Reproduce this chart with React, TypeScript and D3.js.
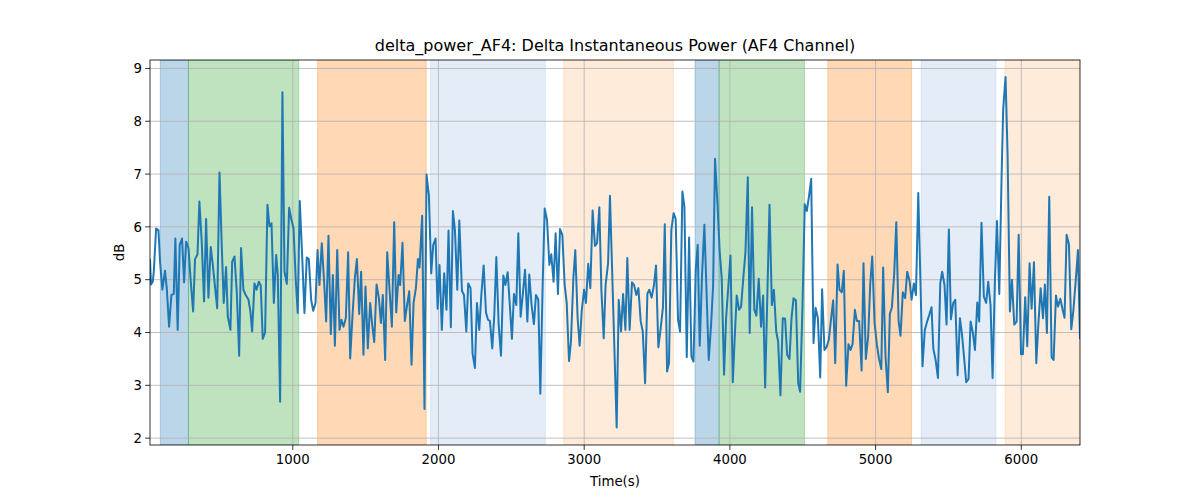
import { useMemo } from 'react'
import * as d3 from 'd3'

// time (s) and delta power (dB)
const times = [
  20, 27, 39, 46, 62, 78, 89, 105, 123, 135, 151, 167, 183, 194, 210, 224, 240, 254, 268, 284,
  300, 316, 329, 346, 359, 375, 391, 405, 421, 437, 451, 467, 481, 497, 513, 526, 542, 554, 572, 584,
  600, 616, 632, 645, 661, 677, 696, 709, 721, 737, 751, 767, 780, 794, 810, 826, 840, 854, 870, 886,
  897, 913, 929, 943, 959, 975, 989, 1005, 1021, 1034, 1048, 1064, 1080, 1096, 1110, 1126, 1140, 1156, 1170, 1183,
  1199, 1215, 1229, 1245, 1261, 1275, 1289, 1305, 1321, 1334, 1348, 1364, 1380, 1394, 1410, 1426, 1440, 1456, 1469, 1485,
  1499, 1515, 1531, 1545, 1559, 1575, 1591, 1605, 1618, 1634, 1648, 1664, 1680, 1696, 1710, 1726, 1737, 1753, 1769, 1783,
  1799, 1815, 1829, 1845, 1859, 1870, 1888, 1904, 1918, 1934, 1950, 1964, 1980, 1994, 2007, 2023, 2039, 2055, 2069, 2085,
  2099, 2113, 2129, 2143, 2161, 2175, 2191, 2204, 2220, 2234, 2250, 2264, 2280, 2294, 2310, 2326, 2340, 2353, 2369, 2383,
  2397, 2413, 2429, 2445, 2459, 2475, 2491, 2504, 2518, 2534, 2548, 2564, 2580, 2594, 2610, 2623, 2639, 2655, 2669, 2685,
  2699, 2715, 2729, 2745, 2761, 2774, 2790, 2804, 2820, 2834, 2850, 2866, 2880, 2896, 2909, 2926, 2939, 2955, 2969, 2983,
  2999, 3012, 3028, 3042, 3058, 3074, 3088, 3104, 3118, 3134, 3147, 3164, 3177, 3223, 3237, 3253, 3267, 3283, 3296, 3312,
  3328, 3342, 3358, 3372, 3388, 3402, 3418, 3434, 3447, 3463, 3479, 3493, 3509, 3525, 3541, 3553, 3569, 3582, 3598, 3614,
  3628, 3644, 3658, 3674, 3688, 3704, 3720, 3736, 3750, 3766, 3779, 3793, 3809, 3825, 3839, 3855, 3871, 3885, 3898, 3914,
  3930, 3944, 3960, 3974, 3990, 4004, 4020, 4033, 4047, 4063, 4077, 4093, 4107, 4123, 4136, 4152, 4168, 4182, 4198, 4214,
  4228, 4242, 4272, 4288, 4302, 4318, 4331, 4347, 4363, 4379, 4393, 4409, 4423, 4437, 4453, 4469, 4482, 4498, 4514, 4528,
  4544, 4558, 4574, 4588, 4604, 4620, 4633, 4649, 4663, 4679, 4695, 4709, 4723, 4739, 4752, 4768, 4782, 4798, 4814, 4828,
  4842, 4858, 4871, 4887, 4904, 4917, 4933, 4949, 4963, 4977, 4993, 5009, 5023, 5039, 5052, 5068, 5084, 5098, 5112, 5128,
  5142, 5158, 5171, 5187, 5203, 5217, 5233, 5247, 5263, 5277, 5293, 5322, 5338, 5354, 5368, 5384, 5396, 5412, 5428, 5444,
  5457, 5473, 5487, 5503, 5517, 5533, 5547, 5563, 5579, 5592, 5608, 5622, 5638, 5652, 5668, 5682, 5698, 5711, 5727, 5743,
  5759, 5773, 5789, 5803, 5819, 5833, 5849, 5865, 5876, 5892, 5906, 5922, 5936, 5952, 5968, 5982, 5998, 6011, 6027, 6041,
  6057, 6071, 6087, 6103, 6117, 6133, 6149, 6162, 6176, 6192, 6208, 6222, 6238, 6252, 6268, 6284, 6297, 6311, 6327, 6343,
  6357, 6373, 6389, 6403,
]

const values = [
  5.37, 4.91, 4.96, 5.15, 5.97, 5.94, 5.34, 4.81, 5.17, 4.84, 4.11, 4.71, 4.73, 5.78, 4.05, 5.66, 5.78, 4.95, 5.72, 5.6,
  4.96, 4.4, 5.39, 5.48, 6.48, 5.72, 4.59, 6.15, 4.66, 5.62, 5.28, 4.84, 4.46, 7.03, 5.6, 4.56, 5.24, 4.3, 4.05, 5.34,
  5.44, 4.74, 3.56, 5.6, 4.81, 4.71, 4.62, 4.4, 4.02, 4.93, 4.81, 4.96, 4.89, 3.88, 4.0, 6.42, 6.01, 6.07, 4.56, 5.47,
  5.09, 2.69, 8.55, 5.15, 4.92, 6.36, 6.16, 5.97, 4.96, 4.37, 6.49, 5.47, 4.37, 5.42, 5.39, 4.62, 4.41, 4.56, 5.56, 4.9,
  5.69, 4.96, 4.21, 5.83, 3.97, 5.09, 3.75, 5.56, 4.05, 4.24, 4.11, 4.27, 5.52, 3.51, 4.33, 5.03, 5.39, 4.35, 5.15, 3.58,
  4.87, 3.7, 4.56, 4.15, 3.82, 4.91, 4.65, 4.18, 4.71, 3.48, 5.52, 4.81, 4.11, 6.09, 4.38, 5.09, 4.9, 5.7, 4.22, 4.49,
  4.78, 3.39, 4.56, 4.84, 5.39, 5.23, 6.21, 2.55, 6.99, 6.6, 5.12, 5.66, 5.78, 4.45, 5.28, 4.05, 5.12, 4.43, 5.93, 4.1,
  6.3, 5.94, 4.81, 6.12, 4.79, 4.71, 4.02, 4.93, 4.84, 3.6, 3.33, 4.56, 4.05, 4.71, 5.27, 4.38, 4.24, 4.22, 3.7, 4.33,
  5.43, 4.15, 3.56, 5.08, 4.9, 5.14, 4.46, 3.88, 4.73, 4.52, 5.88, 4.3, 4.76, 5.19, 4.21, 5.1, 4.52, 4.16, 4.71, 4.62,
  2.84, 4.9, 6.35, 6.13, 5.28, 5.48, 4.96, 5.88, 4.73, 5.96, 5.85, 4.9, 4.56, 3.46, 3.82, 5.04, 5.56, 4.27, 3.75, 4.4,
  4.81, 4.56, 5.3, 4.84, 6.31, 5.64, 5.69, 6.37, 4.81, 3.89, 4.9, 5.31, 6.59, 2.2, 4.62, 4.02, 4.73, 4.05, 5.41, 4.05,
  4.95, 4.9, 4.71, 4.84, 4.21, 4.02, 3.04, 4.74, 4.81, 4.66, 4.9, 5.27, 3.72, 4.08, 4.49, 6.05, 3.26, 3.42, 5.94, 6.26,
  6.15, 4.24, 4.02, 6.67, 6.38, 3.53, 5.8, 3.55, 3.45, 5.19, 5.66, 3.75, 5.09, 6.04, 4.84, 3.48, 4.15, 4.9, 7.29, 6.48,
  5.53, 5.03, 3.2, 4.27, 4.9, 5.46, 3.06, 3.89, 4.7, 4.43, 4.49, 5.06, 5.53, 6.94, 3.99, 6.37, 4.43, 4.32, 5.02, 4.11,
  4.7, 2.96, 6.42, 4.52, 4.81, 4.02, 3.83, 2.81, 4.27, 4.26, 3.58, 3.5, 4.27, 4.65, 4.61, 3.04, 2.88, 4.46, 6.43, 6.3,
  6.6, 6.91, 3.8, 4.47, 4.27, 3.15, 4.82, 3.67, 3.72, 3.86, 4.27, 4.61, 3.42, 5.29, 4.81, 4.76, 5.17, 2.99, 3.78, 3.67,
  3.78, 4.43, 4.22, 4.22, 3.28, 5.31, 3.5, 3.92, 4.9, 5.44, 4.18, 3.77, 3.51, 3.31, 5.23, 3.55, 2.87, 4.35, 4.48, 5.12,
  6.09, 4.21, 3.94, 4.76, 4.65, 5.15, 4.98, 4.62, 4.93, 4.71, 6.64, 3.36, 4.05, 4.21, 4.33, 4.48, 3.7, 3.48, 3.14, 4.93,
  5.15, 4.9, 4.15, 5.95, 4.25, 4.56, 4.62, 3.19, 4.27, 3.99, 3.51, 3.06, 3.12, 4.21, 3.99, 3.67, 4.57, 4.21, 6.08, 4.68,
  4.56, 4.96, 4.52, 3.14, 4.98, 6.11, 4.73, 6.98, 8.24, 8.84, 7.36, 4.4, 5.0, 4.15, 4.21, 5.85, 3.59, 3.59, 4.67, 3.74,
  5.31, 4.45, 5.33, 3.42, 4.15, 4.84, 4.27, 4.91, 3.99, 6.57, 3.53, 3.48, 4.7, 4.49, 4.64, 4.43, 4.28, 5.85, 5.67, 4.06,
  4.4, 4.96, 5.56, 3.89,
]

// shaded segments
const spanStart = [91, 284, 1170, 1946, 2859, 3761, 3926, 4672, 5313, 5888]
const spanEnd = [284, 1041, 1916, 2733, 3612, 3926, 4512, 5247, 5826, 6403]
const spanKind = ['blue', 'green', 'orange', 'paleBlue', 'paleOrange', 'blue', 'green', 'orange', 'paleBlue', 'paleOrange']

const xTicks = [1000, 2000, 3000, 4000, 5000, 6000]
const yTicks = [2, 3, 4, 5, 6, 7, 8, 9]

const spanFill: Record<string, { color: string; alpha: number }> = {
  blue: { color: '#1f77b4', alpha: 0.3 },
  green: { color: '#2ca02c', alpha: 0.3 },
  orange: { color: '#ff7f0e', alpha: 0.3 },
  paleBlue: { color: '#4a86c8', alpha: 0.15 },
  paleOrange: { color: '#fd9c42', alpha: 0.2 },
}

const W = 1200
const H = 500
const margin = { top: 60, right: 120, bottom: 55, left: 150 }
const font = 'DejaVu Sans, sans-serif'

export default function App() {
  const plotW = W - margin.left - margin.right
  const plotH = H - margin.top - margin.bottom

  const x = useMemo(() => d3.scaleLinear().domain([20, 6403]).range([0, plotW]), [plotW])
  const y = useMemo(() => d3.scaleLinear().domain([1.87, 9.16]).range([plotH, 0]), [plotH])

  const linePath = useMemo(() => {
    const pts = times.map((t, i) => [t, values[i]] as [number, number])
    return d3
      .line<[number, number]>()
      .x(d => x(d[0]))
      .y(d => y(d[1]))(pts) as string
  }, [x, y])

  return (
    <svg
      width={W}
      height={H}
      style={{ position: 'absolute', left: 0, top: 0, background: '#fff' }}
      fontFamily={font}
    >
      <defs>
        <clipPath id="plot-clip">
          <rect x={0} y={0} width={plotW} height={plotH} />
        </clipPath>
      </defs>
      <text x={margin.left + plotW / 2} y={51} textAnchor="middle" fontSize={16} fill="#000">
        delta_power_AF4: Delta Instantaneous Power (AF4 Channel)
      </text>
      <g transform={`translate(${margin.left},${margin.top})`}>
        <g clipPath="url(#plot-clip)">
          {spanStart.map((s, i) => {
            const f = spanFill[spanKind[i]]
            return (
              <rect
                key={'span' + i}
                x={x(s)}
                y={0}
                width={x(spanEnd[i]) - x(s)}
                height={plotH}
                fill={f.color}
                fillOpacity={f.alpha}
                stroke={f.color}
                strokeOpacity={f.alpha}
                strokeWidth={1}
              />
            )
          })}
          {xTicks.map(t => (
            <line key={'gx' + t} x1={x(t)} x2={x(t)} y1={0} y2={plotH} stroke="#b0b0b0" strokeWidth={0.8} />
          ))}
          {yTicks.map(t => (
            <line key={'gy' + t} x1={0} x2={plotW} y1={y(t)} y2={y(t)} stroke="#b0b0b0" strokeWidth={0.8} />
          ))}
          <path d={linePath} fill="none" stroke="#1f77b4" strokeWidth={2} strokeLinejoin="round" strokeLinecap="square" />
        </g>
        <rect x={0} y={0} width={plotW} height={plotH} fill="none" stroke="#000" strokeWidth={0.8} />
        {xTicks.map(t => (
          <g key={'tx' + t} transform={`translate(${x(t)},${plotH})`}>
            <line y1={0} y2={4.9} stroke="#000" strokeWidth={0.8} />
            <text y={19} textAnchor="middle" fontSize={13.3} fill="#000">
              {t}
            </text>
          </g>
        ))}
        {yTicks.map(t => (
          <g key={'ty' + t} transform={`translate(0,${y(t)})`}>
            <line x1={0} x2={-4.9} stroke="#000" strokeWidth={0.8} />
            <text x={-8} dy="0.35em" textAnchor="end" fontSize={13.3} fill="#000">
              {t}
            </text>
          </g>
        ))}
      </g>
      <text x={margin.left + plotW / 2} y={486} textAnchor="middle" fontSize={13.3} fill="#000">
        Time(s)
      </text>
      <text
        transform={`translate(124,${margin.top + plotH / 2}) rotate(-90)`}
        textAnchor="middle"
        fontSize={13.3}
        fill="#000"
      >
        dB
      </text>
    </svg>
  )
}
